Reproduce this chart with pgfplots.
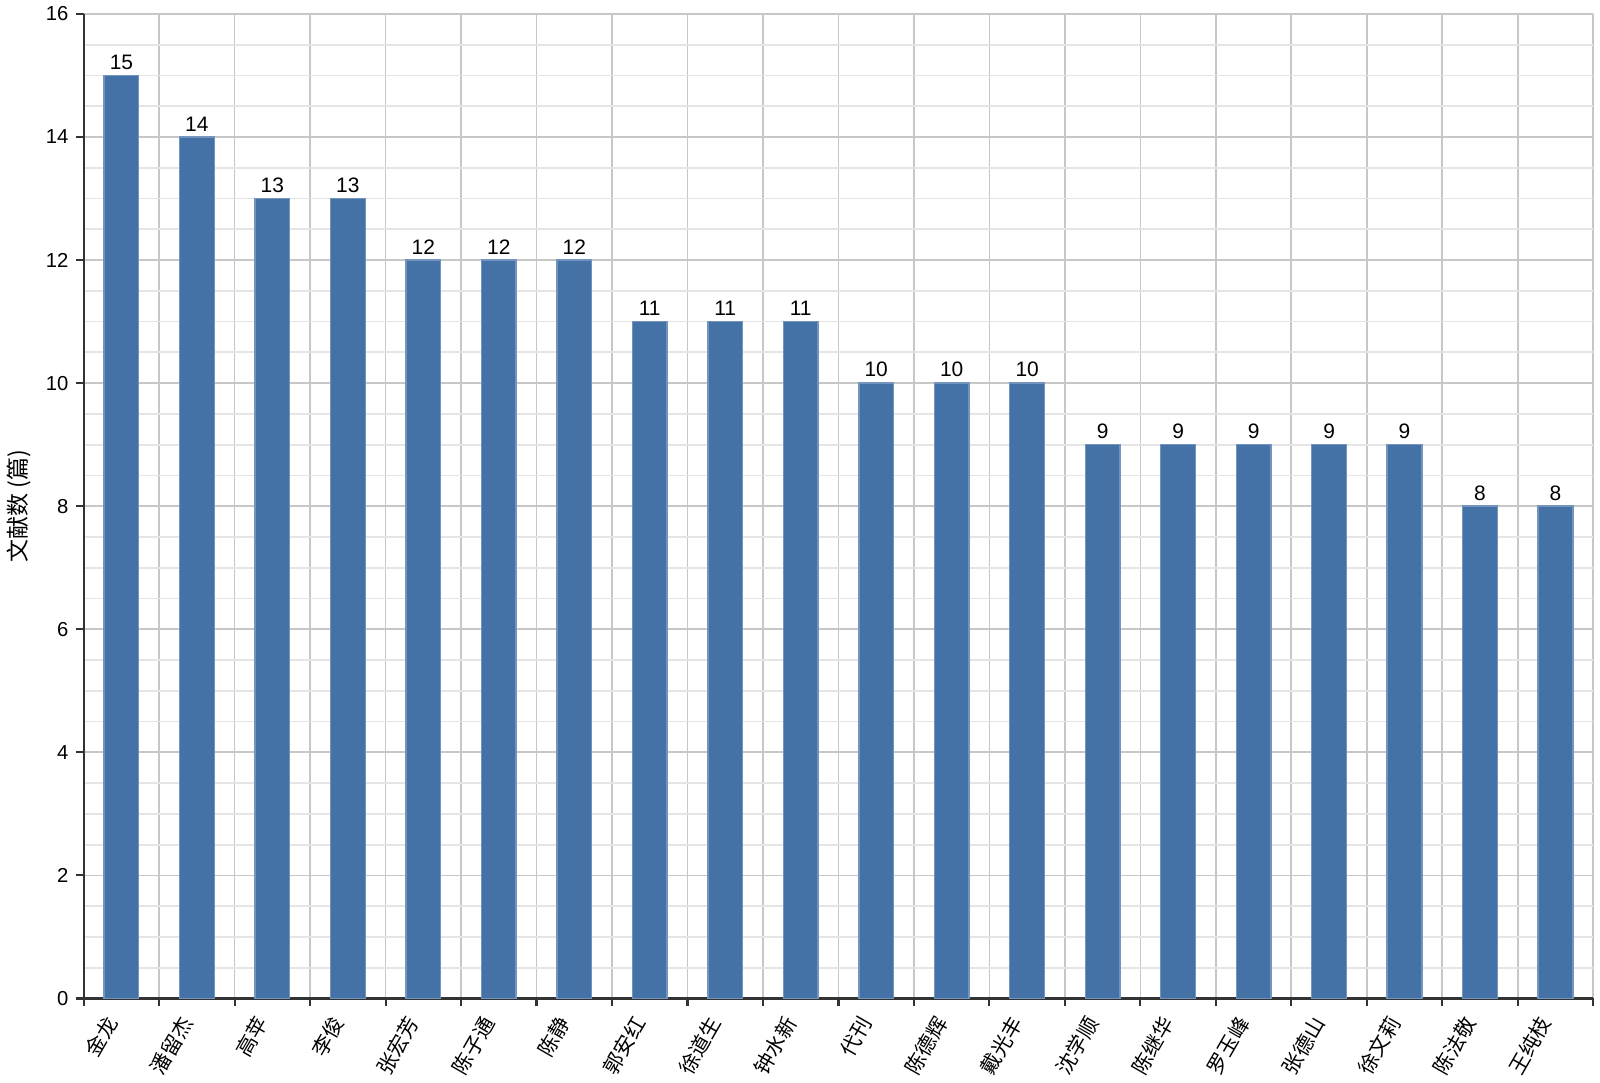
\documentclass[border=0pt]{standalone}
\usepackage{fontspec}
\setmainfont{Liberation Sans}
\newfontfamily\cjk{Noto Sans CJK SC}
\usepackage{pgfplots}
\pgfplotsset{compat=1.18}
\definecolor{barblue}{RGB}{68,114,167}
\begin{document}
\fontsize{5.8}{6.9}\selectfont
\begin{tikzpicture}
\begin{axis}[
 scale only axis, width=15.21cm, height=9.92cm,
 xmin=-0.5, xmax=19.5, ymin=0, ymax=16,
 axis lines=left, axis line style={draw=black!80, line width=0.6pt, -},
 xtick={-0.5,0.5,...,19.5}, xticklabels={},
 extra x ticks={0,1,...,19},
 extra x tick labels={金龙,潘留杰,高苹,李俊,张宏芳,陈子通,陈静,郭安红,徐道生,钟水新,代刊,陈德辉,戴光丰,沈学顺,陈继华,罗玉峰,张德山,徐文莉,陈法敬,王纯枝},
 extra x tick style={major tick length=0pt, grid=none, tick label style={yshift=-0.17cm, xshift=-0.08cm, rotate=60, anchor=east, inner sep=1pt, font=\cjk\fontsize{5.9}{6.9}\selectfont}},
 ytick={0,2,...,16}, minor y tick num=3,
 xmajorgrids, ymajorgrids, yminorgrids,
 major grid style={draw=black!22, line width=0.5pt},
 minor grid style={draw=black!10, line width=0.5pt},
 major tick length=0.08cm, minor tick length=0pt, tick align=outside,
 tick style={draw=black!80, line width=0.6pt},
 ylabel={\cjk\fontsize{6.6}{7.5}\selectfont 文献数 (篇)},
 ylabel style={at={(axis description cs:-0.043,0.5)}, anchor=center},
 ybar, bar width=0.35cm, bar shift=0pt,
 nodes near coords, nodes near coords style={font=\fontsize{6}{7}\selectfont, color=black, inner sep=1.5pt},
 /pgf/number format/assume math mode=true,
 clip=false,
]
\addplot[fill=barblue, draw=barblue!75!white, line width=0.4pt] coordinates {
(0,15) (1,14) (2,13) (3,13) (4,12) (5,12) (6,12) (7,11) (8,11) (9,11)
(10,10) (11,10) (12,10) (13,9) (14,9) (15,9) (16,9) (17,9) (18,8) (19,8)};
\end{axis}
\end{tikzpicture}
\end{document}
